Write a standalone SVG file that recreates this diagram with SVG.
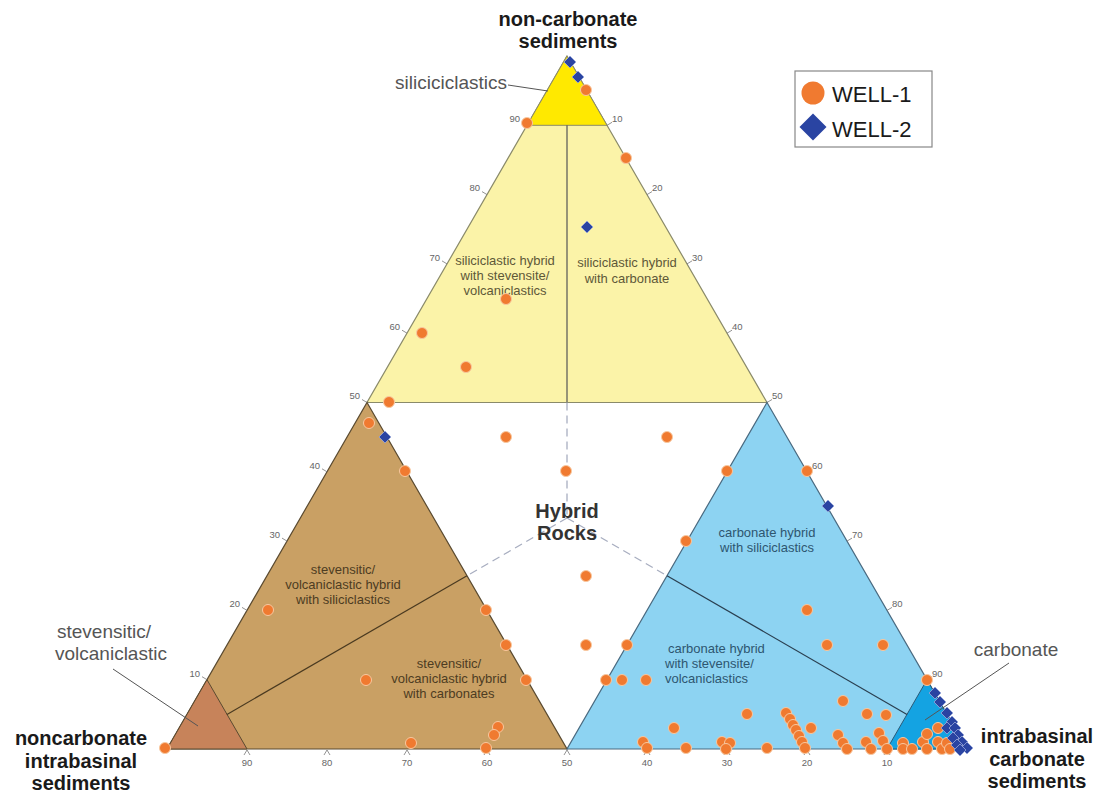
<svg xmlns="http://www.w3.org/2000/svg" width="1101" height="796" viewBox="0 0 1101 796">
<defs>
<style>
.t{font-family:"Liberation Sans",Arial,sans-serif}
.big{font-size:20px;font-weight:bold;fill:#1a1a1a;text-anchor:middle}
.lbl{font-size:19px;fill:#555}
.reg{font-size:13px;text-anchor:middle}
.regs{font-size:13px;text-anchor:start}
.ry{fill:#5e5838}
.rb{fill:#4d3c22}
.rc{fill:#2e5670}
.tk{font-size:9.5px;fill:#666}
.w1{fill:#F07A30;stroke:#F8C8A0;stroke-width:1}
.w2{fill:#2A44A2;stroke:#9AA8D8;stroke-width:0.8}
.tick{stroke:#777;stroke-width:0.8;fill:none}
</style>
<circle id="c" r="5.5" class="w1"/>
<path id="d" d="M0,-6 L6,0 L0,6 L-6,0 Z" class="w2"/>
</defs>
<rect width="1101" height="796" fill="#fff"/>

<g id="region-yellow">
<polygon points="567,56 767,402.5 367,402.5" fill="#FBF3A8" stroke="#8a8a6a" stroke-width="1.2"/>
<polygon points="567,56 607,125.3 527,125.3" fill="#FFE900" stroke="#8a8a6a" stroke-width="1"/>
</g>
<g id="region-brown">
<polygon points="367,402.5 567,749 167,749" fill="#C9A064" stroke="#5a4a30" stroke-width="1.2"/>
<polygon points="167,749 207,679.7 247,749" fill="#C7835A" stroke="#5a4a30" stroke-width="1"/>
</g>
<g id="region-blue">
<polygon points="767,402.5 967,749 567,749" fill="#8DD3F2" stroke="#4a6a80" stroke-width="1.2"/>
<polygon points="927,679.7 967,749 887,749" fill="#14A3E2" stroke="#2a5a78" stroke-width="1"/>
</g>

<g id="connectors">
<line x1="567" y1="125.3" x2="567" y2="402.5" stroke="#555" stroke-width="1.2"/>
<line x1="567" y1="402.5" x2="567" y2="518" stroke="#a8aec0" stroke-width="1.3" stroke-dasharray="8,5"/>
<line x1="567" y1="518" x2="467" y2="575.8" stroke="#a8aec0" stroke-width="1.3" stroke-dasharray="8,5"/>
<line x1="567" y1="518" x2="667" y2="575.8" stroke="#a8aec0" stroke-width="1.3" stroke-dasharray="8,5"/>
<line x1="467" y1="575.8" x2="227" y2="714.4" stroke="#4a3a20" stroke-width="1.2"/>
<line x1="667" y1="575.8" x2="907" y2="714.4" stroke="#2a3f50" stroke-width="1.2"/>
<line x1="508" y1="85" x2="548" y2="91" stroke="#555" stroke-width="1"/>
<line x1="113" y1="669" x2="198" y2="726" stroke="#555" stroke-width="1"/>
<line x1="1009" y1="663" x2="925" y2="720" stroke="#555" stroke-width="1"/>
</g>

<g id="ticks">
<path class="tick" d="M527,125.3 l-5,-3 M487,194.6 l-5,-3 M447,263.9 l-5,-3 M407,333.2 l-5,-3 M367,402.5 l-5,-3 M327,471.8 l-5,-3 M287,541.1 l-5,-3 M247,610.4 l-5,-3 M207,679.7 l-5,-3"/>
<path class="tick" d="M607,125.3 l5,-3 M647,194.6 l5,-3 M687,263.9 l5,-3 M727,333.2 l5,-3 M767,402.5 l5,-3 M807,471.8 l5,-3 M847,541.1 l5,-3 M887,610.4 l5,-3 M927,679.7 l5,-3"/>
<path class="tick" d="M244,755 l3,-5 l3,5 M324,755 l3,-5 l3,5 M404,755 l3,-5 l3,5 M484,755 l3,-5 l3,5 M564,755 l3,-5 l3,5 M644,755 l3,-5 l3,5 M724,755 l3,-5 l3,5 M804,755 l3,-5 l3,5 M884,755 l3,-5 l3,5"/>
<g class="t tk" text-anchor="end">
<text x="520" y="122">90</text><text x="480" y="191">80</text><text x="440" y="261">70</text><text x="400" y="330">60</text><text x="360" y="399">50</text><text x="320" y="469">40</text><text x="280" y="538">30</text><text x="240" y="607">20</text><text x="200" y="677">10</text>
</g>
<g class="t tk">
<text x="612" y="122">10</text><text x="652" y="191">20</text><text x="692" y="261">30</text><text x="732" y="330">40</text><text x="772" y="399">50</text><text x="812" y="469">60</text><text x="852" y="538">70</text><text x="892" y="607">80</text><text x="932" y="677">90</text>
</g>
<g class="t tk" text-anchor="middle">
<text x="247" y="766">90</text><text x="327" y="766">80</text><text x="407" y="766">70</text><text x="487" y="766">60</text><text x="567" y="766">50</text><text x="647" y="766">40</text><text x="727" y="766">30</text><text x="807" y="766">20</text><text x="887" y="766">10</text>
</g>
</g>

<g id="region-labels" class="t">
<text class="reg ry" x="505" y="265">siliciclastic hybrid</text>
<text class="reg ry" x="505" y="280">with stevensite/</text>
<text class="reg ry" x="505" y="295">volcaniclastics</text>
<text class="reg ry" x="627" y="267">siliciclastic hybrid</text>
<text class="reg ry" x="627" y="283">with carbonate</text>
<text class="reg rb" x="343" y="574">stevensitic/</text>
<text class="reg rb" x="343" y="589">volcaniclastic hybrid</text>
<text class="reg rb" x="343" y="604">with siliciclastics</text>
<text class="reg rb" x="449" y="668">stevensitic/</text>
<text class="reg rb" x="449" y="683">volcaniclastic hybrid</text>
<text class="reg rb" x="449" y="698">with carbonates</text>
<text class="reg rc" x="767" y="537">carbonate hybrid</text>
<text class="reg rc" x="767" y="552">with siliciclastics</text>
<text class="regs rc" x="668" y="653">carbonate hybrid</text>
<text class="regs rc" x="665" y="668">with stevensite/</text>
<text class="regs rc" x="665" y="683">volcaniclastics</text>
<text x="567" y="518" font-size="20" font-weight="bold" fill="#333" text-anchor="middle">Hybrid</text>
<text x="567" y="540" font-size="20" font-weight="bold" fill="#333" text-anchor="middle">Rocks</text>
</g>

<g id="corner-labels" class="t">
<text class="big" x="568" y="26">non-carbonate</text>
<text class="big" x="568" y="48">sediments</text>
<text class="big" x="81" y="745">noncarbonate</text>
<text class="big" x="81" y="768">intrabasinal</text>
<text class="big" x="81" y="790">sediments</text>
<text class="big" x="1037" y="743">intrabasinal</text>
<text class="big" x="1037" y="766">carbonate</text>
<text class="big" x="1037" y="788">sediments</text>
<text class="lbl" x="507" y="89" text-anchor="end">siliciciclastics</text>
<text class="lbl" x="57" y="638">stevensitic/</text>
<text class="lbl" x="55" y="660">volcaniclastic</text>
<text class="lbl" x="1016" y="656" text-anchor="middle">carbonate</text>
</g>

<g id="well-1">
<use href="#c" x="586" y="90"/><use href="#c" x="527" y="123"/><use href="#c" x="626" y="158"/>
<use href="#c" x="506" y="299"/><use href="#c" x="422" y="333"/><use href="#c" x="466" y="367"/>
<use href="#c" x="389" y="402"/><use href="#c" x="369" y="423"/><use href="#c" x="506" y="437"/><use href="#c" x="667" y="437"/>
<use href="#c" x="405" y="471"/><use href="#c" x="566" y="471"/><use href="#c" x="727" y="471"/><use href="#c" x="807" y="471"/>
<use href="#c" x="686" y="541"/><use href="#c" x="586" y="576"/>
<use href="#c" x="268" y="610"/><use href="#c" x="486" y="610"/><use href="#c" x="807" y="610"/>
<use href="#c" x="506" y="645"/><use href="#c" x="586" y="645"/><use href="#c" x="627" y="645"/><use href="#c" x="827" y="645"/><use href="#c" x="883" y="645"/>
<use href="#c" x="366" y="680"/><use href="#c" x="526" y="680"/><use href="#c" x="606" y="680"/><use href="#c" x="622" y="680"/><use href="#c" x="646" y="680"/><use href="#c" x="927" y="680"/>
<use href="#c" x="843" y="701"/><use href="#c" x="747" y="714"/><use href="#c" x="867" y="714"/><use href="#c" x="886" y="715"/>
<use href="#c" x="498" y="727"/><use href="#c" x="494" y="735"/><use href="#c" x="486" y="748"/><use href="#c" x="411" y="743"/><use href="#c" x="165" y="748"/>
<use href="#c" x="674" y="728"/><use href="#c" x="643" y="742"/><use href="#c" x="647" y="748"/><use href="#c" x="686" y="748"/>
<use href="#c" x="722" y="742"/><use href="#c" x="730" y="743"/><use href="#c" x="726" y="749"/><use href="#c" x="767" y="748"/>
<use href="#c" x="786" y="713"/><use href="#c" x="790" y="719"/><use href="#c" x="793" y="725"/><use href="#c" x="796" y="730"/><use href="#c" x="799" y="736"/><use href="#c" x="802" y="742"/><use href="#c" x="805" y="748"/>
<use href="#c" x="811" y="728"/>
<use href="#c" x="838" y="735"/><use href="#c" x="843" y="743"/><use href="#c" x="847" y="749"/>
<use href="#c" x="866" y="742"/><use href="#c" x="871" y="749"/>
<use href="#c" x="879" y="733"/><use href="#c" x="883" y="741"/><use href="#c" x="887" y="749"/>
<use href="#c" x="903" y="743"/><use href="#c" x="903" y="749"/><use href="#c" x="912" y="749"/>
<use href="#c" x="923" y="742"/><use href="#c" x="927" y="734"/><use href="#c" x="927" y="749"/>
<use href="#c" x="938" y="728"/><use href="#c" x="938" y="742"/><use href="#c" x="942" y="749"/><use href="#c" x="947" y="743"/><use href="#c" x="950" y="749"/>
</g>

<g id="well-2">
<use href="#d" x="570" y="62"/><use href="#d" x="578" y="77"/><use href="#d" x="587" y="227"/>
<use href="#d" x="385" y="437"/><use href="#d" x="828" y="506"/>
<use href="#d" x="935" y="693"/><use href="#d" x="940" y="702"/><use href="#d" x="947" y="713"/><use href="#d" x="952" y="722"/>
<use href="#d" x="947" y="728"/><use href="#d" x="955" y="728"/><use href="#d" x="958" y="735"/><use href="#d" x="953" y="738"/>
<use href="#d" x="962" y="742"/><use href="#d" x="957" y="745"/><use href="#d" x="967" y="748"/><use href="#d" x="960" y="750"/>
</g>

<g id="legend">
<rect x="795" y="71" width="137" height="76" fill="#fff" stroke="#888" stroke-width="1.2"/>
<circle cx="813" cy="93" r="11.5" fill="#F07A30"/>
<path d="M813,113.5 L826.5,127 L813,140.5 L799.5,127 Z" fill="#2A44A2"/>
<text class="t" x="832" y="102" font-size="22" fill="#1a1a1a">WELL-1</text>
<text class="t" x="832" y="137" font-size="22" fill="#1a1a1a">WELL-2</text>
</g>
</svg>
